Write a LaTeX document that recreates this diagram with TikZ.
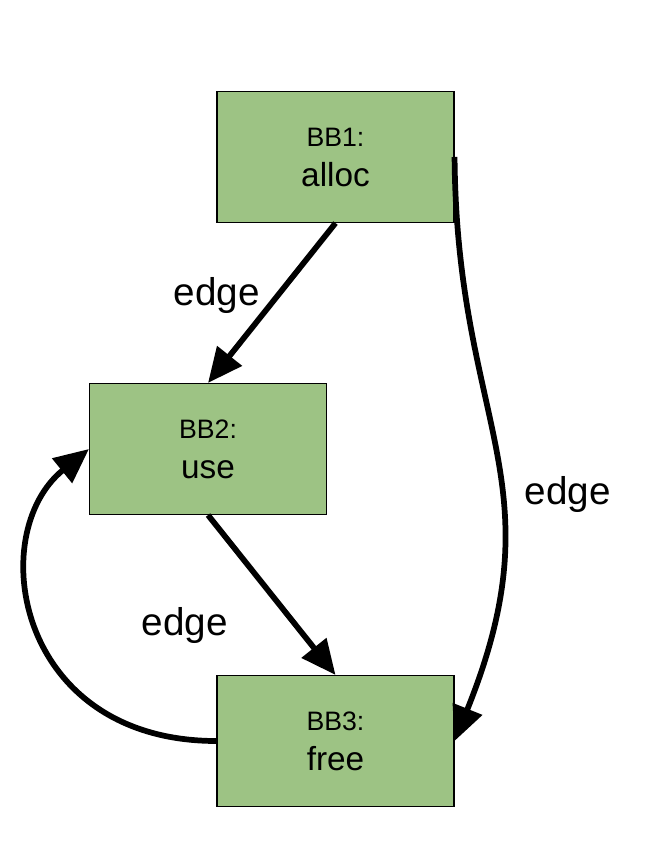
\documentclass[tikz,border=0pt]{standalone}
\usepackage{fontspec}
\setmainfont{Liberation Sans}
\usetikzlibrary{arrows.meta}
\definecolor{bbgreen}{HTML}{9DC384}

\begin{document}
\begin{tikzpicture}[x=0.75pt,y=-0.75pt,node distance=219pt,
    block/.style={draw,rectangle,fill=bbgreen,line width=1.1pt,minimum width=177.5pt,
        minimum height=98pt,align=center,font=\fontsize{25}{30}\selectfont},
    flow/.style={line width=4.3pt,-{Triangle[length=26pt,width=23pt]}},
    lbl/.style={font=\fontsize{29}{30}\selectfont}]
        \useasboundingbox (0,0) rectangle (660,854);
        \node[block] (bb1) at (335.5,157) {{\fontsize{20}{20}\selectfont BB1:}\\alloc};
        \node[block, below of=bb1, xshift=-95.6pt] (bb2) {{\fontsize{20}{20}\selectfont BB2:}\\use};
        \node[block, below of=bb2, xshift=95.6pt] (bb3) {{\fontsize{20}{20}\selectfont BB3:}\\free};
        \node[lbl] (e1) at (217,295) {edge};
        \node[lbl] (e2) at (185,625) {edge};
        \node[lbl] (e3) at (568,494) {edge};
        \draw[flow] (bb1.south) -- (bb2.north);
        \draw[flow] (bb2.south) -- (bb3.north);
        \draw[flow] (bb3.west) .. controls +(-200,0) and +(-105,85) .. (bb2.west);
        \draw[flow] (bb1.east) .. controls +(2,270) and +(105,-260) .. (bb3.east);
    \end{tikzpicture}
\end{document}
